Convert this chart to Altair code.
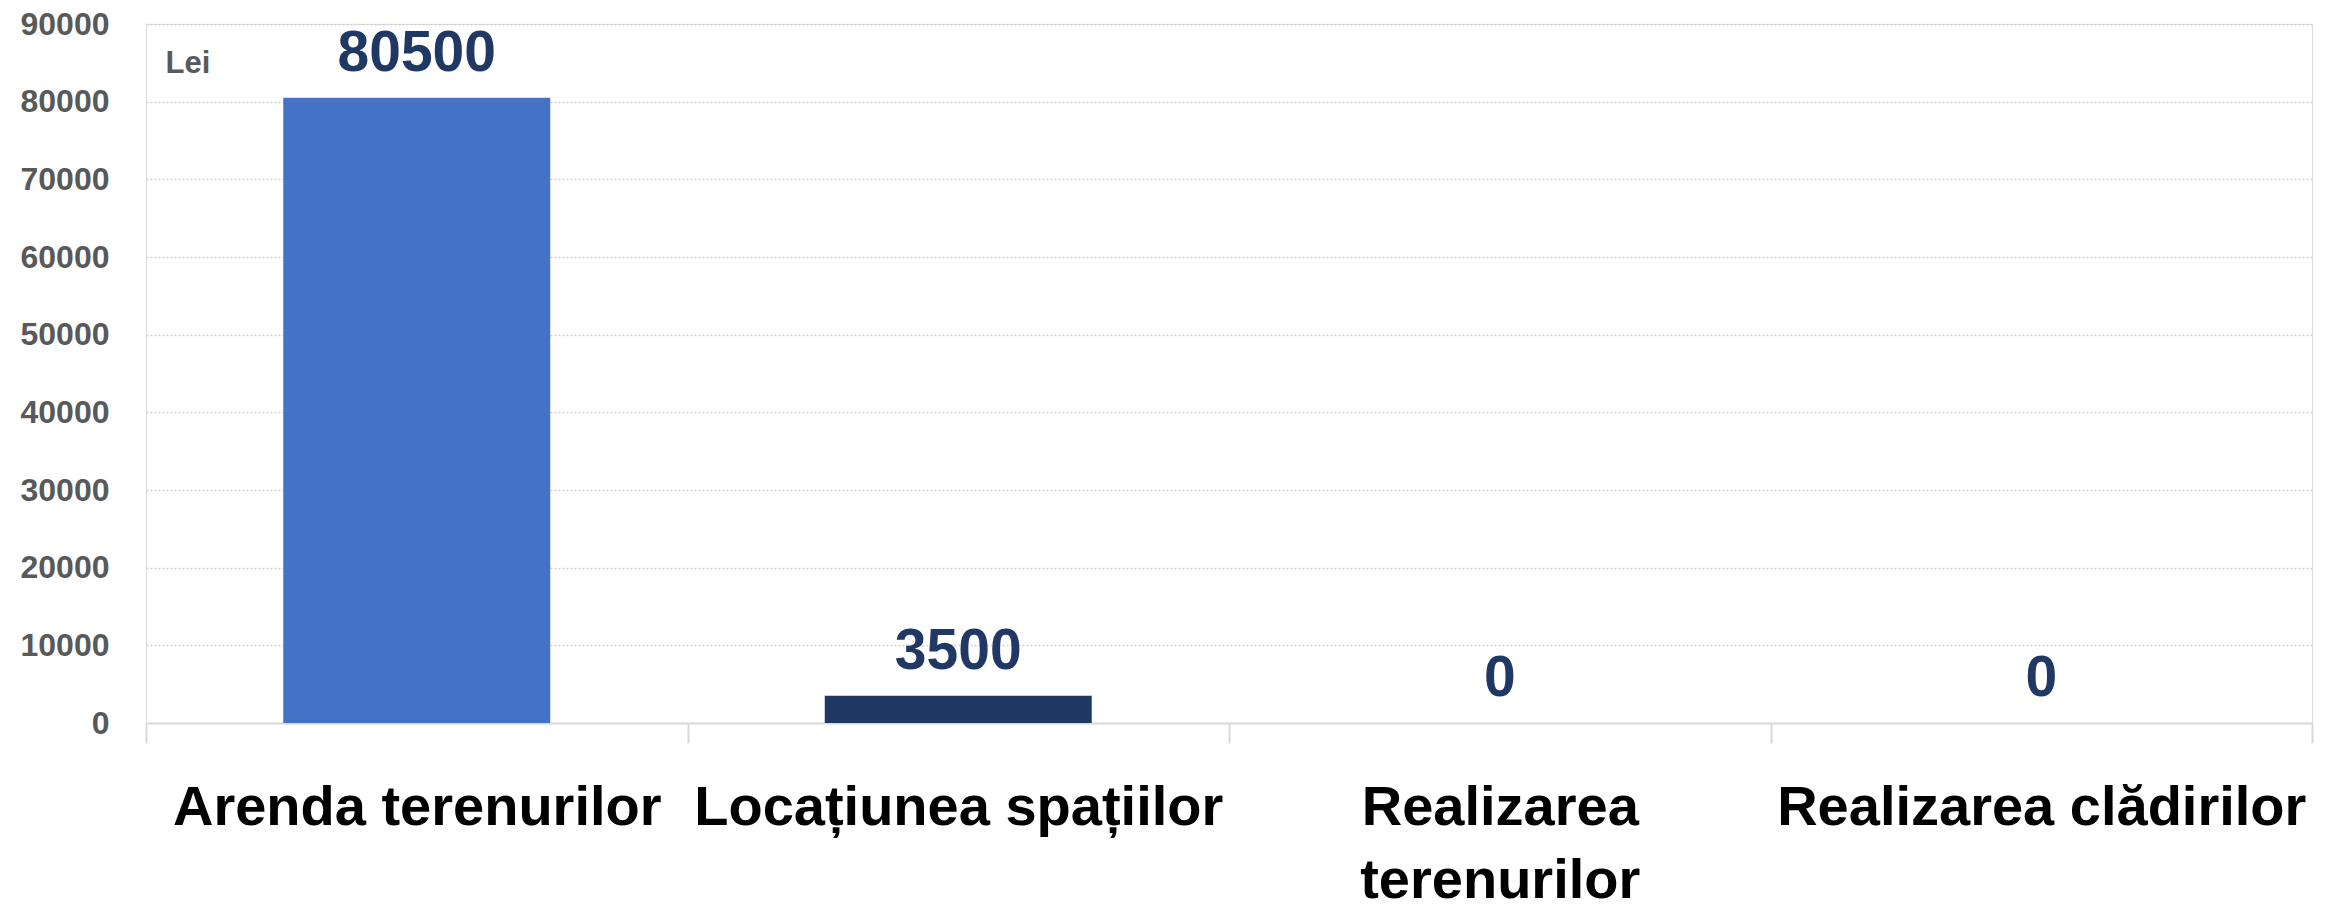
import altair as alt
import pandas as pd

categories = ["Arenda terenurilor", "Locațiunea spațiilor", "Realizarea terenurilor", "Realizarea clădirilor"]
values = [80500, 3500, 0, 0]
colors = ["#4472C4", "#203864", "#4472C4", "#4472C4"]
y_ticks = [0, 10000, 20000, 30000, 40000, 50000, 60000, 70000, 80000, 90000]

df = pd.DataFrame({"cat": categories, "value": values})

FONT = "Liberation Sans"

x_enc = alt.X(
    "cat:N",
    sort=categories,
    scale=alt.Scale(paddingInner=0, paddingOuter=0),
    axis=alt.Axis(
        title=None,
        labelAngle=0,
        tickBand="extent",
        labelExpr="datum.value == 'Realizarea terenurilor' ? ['Realizarea', 'terenurilor'] : datum.label",
        labelFont=FONT,
        labelFontSize=56,
        labelFontWeight="bold",
        labelColor="#000000",
        labelLineHeight=73,
        labelPadding=37,
        labelLimit=1000,
        labelBaseline="top",
        labelOverlap=False,
        labelFlush=False,
        tickSize=20,
        tickColor="#D9D9D9",
        tickWidth=2,
        domainColor="#D9D9D9",
        domainWidth=2,
        grid=False,
    ),
)

y_enc = alt.Y(
    "value:Q",
    scale=alt.Scale(domain=[0, 90000], nice=False),
    axis=alt.Axis(
        values=y_ticks,
        format="d",
        title="Lei",
        titleAngle=0,
        titleAlign="left",
        titleBaseline="alphabetic",
        titleX=19,
        titleY=48,
        titleFont=FONT,
        titleFontSize=31,
        titleFontWeight="bold",
        titleColor="#595959",
        labelFont=FONT,
        labelFontSize=32,
        labelFontWeight="bold",
        labelColor="#595959",
        labelPadding=37,
        domain=False,
        ticks=False,
        gridDash=[2, 2],
        gridColor="#D0D0D0",
        gridWidth=1.5,
    ),
)

bars = alt.Chart(df).mark_bar(width=alt.RelativeBandSize(0.493)).encode(
    x=x_enc,
    y=y_enc,
    color=alt.Color("cat:N", sort=categories,
                    scale=alt.Scale(domain=categories, range=colors), legend=None),
)

labels = alt.Chart(df).mark_text(
    dy=-27, baseline="alphabetic", align="center",
    font=FONT, fontSize=57, fontWeight="bold", color="#1F3864",
).encode(
    x=alt.X("cat:N", sort=categories),
    y=alt.Y("value:Q"),
    text=alt.Text("value:Q", format="d"),
)

chart = alt.layer(bars, labels).properties(
    width=2166,
    height=699,
    autosize=alt.AutoSizeParams(type="none"),
    padding={"left": 138, "top": 16, "right": 10, "bottom": 177},
).configure_view(stroke=None).configure(background="white")

chart.save("out.html", embed_options={"renderer": "svg", "actions": False})
